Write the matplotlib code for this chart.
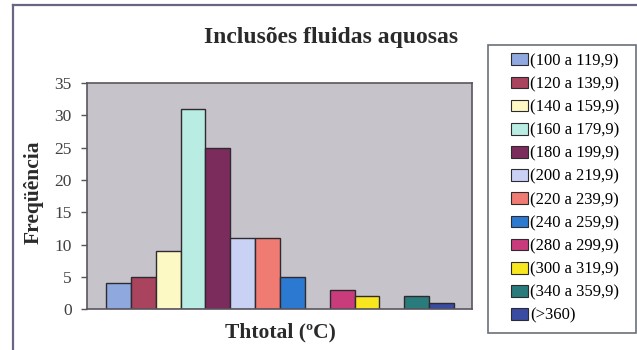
import matplotlib
matplotlib.use("Agg")
import matplotlib.pyplot as plt
from matplotlib.patches import Rectangle, Patch
from matplotlib.lines import Line2D

plt.rcParams['font.family'] = ['Liberation Serif', 'DejaVu Serif']

# Temperature classes (ºC) and the number of inclusions in each
classes = ["(100 a 119,9)", "(120 a 139,9)", "(140 a 159,9)", "(160 a 179,9)",
           "(180 a 199,9)", "(200 a 219,9)", "(220 a 239,9)", "(240 a 259,9)",
           "(260 a 279,9)", "(280 a 299,9)", "(300 a 319,9)", "(320 a 339,9)",
           "(340 a 359,9)", "(>360)"]
counts = [4, 5, 9, 31, 25, 11, 11, 5, 0, 3, 2, 0, 2, 1]
colors = ["#8fa8de", "#a9435e", "#fdf9c4", "#b9ece2", "#7b2c5c", "#c9d1f5",
          "#f07b72", "#2b79d1", "#999999", "#c93c7c", "#f8e61e", "#999999",
          "#2a7b7b", "#3a4ba2"]
yticks = [0, 5, 10, 15, 20, 25, 30, 35]

W, H = 637, 350
fig = plt.figure(figsize=(W / 100, H / 100), dpi=100)
fig.patch.set_facecolor("white")

# outer chart frame
frame_col = "#6b6482"
fig.add_artist(Line2D([13 / W, 13 / W], [0, 1 - 5 / H], transform=fig.transFigure,
                      color=frame_col, lw=1.6))
fig.add_artist(Line2D([13 / W, 1], [1 - 5 / H, 1 - 5 / H], transform=fig.transFigure,
                      color=frame_col, lw=1.6))

ax = fig.add_axes([87 / W, 1 - 309.3 / H, (472 - 87) / W, (309.3 - 83) / H])
ax.set_facecolor("#c7c3cb")

handles = []
for i, (lab, val, col) in enumerate(zip(classes, counts, colors)):
    if val == 0:
        continue
    ax.bar(i, val, width=1.0, color=col, edgecolor="#2e2a30", linewidth=1.0)
    handles.append(Patch(facecolor=col, edgecolor="#2e2a30", linewidth=0.8, label=lab))

ax.set_xlim(-1.26, 14.22)
ax.set_ylim(0, 35)
ax.set_yticks(yticks)
ax.set_xticks([])
ax.tick_params(axis="y", direction="out", length=4, width=1, color="#555555",
               labelsize=12.5, labelcolor="#404040", pad=7)
for s in ax.spines.values():
    s.set_color("#5a5560")
    s.set_linewidth(1.2)

fig.text(331 / W, 1 - 38 / H, "Inclusões fluidas aquosas", ha="center", va="center",
         fontsize=17, fontweight="bold", color="#2a2a2a")
fig.text(280 / W, 1 - 332 / H, "Thtotal (ºC)", ha="center", va="center",
         fontsize=15.5, fontweight="bold", color="#2a2a2a")
fig.text(34 / W, 1 - 192 / H, "Freqüência", ha="center", va="center", rotation=90,
         fontsize=15.5, fontweight="bold", color="#2a2a2a")

# legend box
fig.add_artist(Rectangle((488 / W, 1 - 333 / H), (636 - 488) / W, (333 - 45) / H,
                         transform=fig.transFigure, facecolor="white",
                         edgecolor="#6b6f78", lw=1.2))
fig.legend(handles=handles, loc="upper left", bbox_to_anchor=(506 / W, 1 - 48 / H),
           frameon=False, fontsize=12, handlelength=1.0, handleheight=0.7,
           handletextpad=0.15, labelspacing=0.43, borderaxespad=0, borderpad=0.3)

fig.savefig("out.png", dpi=100, facecolor="white")
